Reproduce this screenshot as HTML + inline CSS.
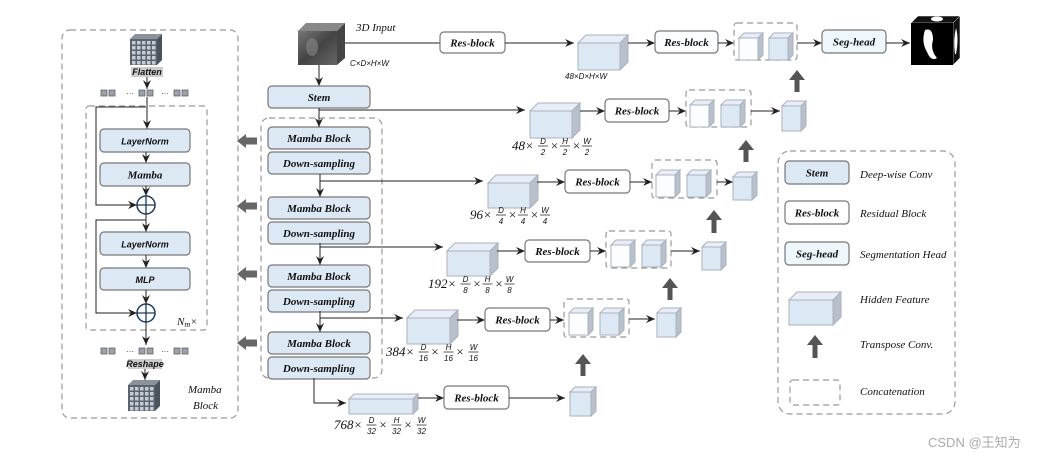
<!DOCTYPE html>
<html><head><meta charset="utf-8"><style>
html,body{margin:0;padding:0;background:#fff;width:1041px;height:459px;overflow:hidden}
svg{display:block}
.b{font-family:"Liberation Serif",serif;font-style:italic;font-weight:bold;font-size:11px;fill:#111}
.s{font-family:"Liberation Sans",sans-serif;font-style:italic;font-weight:bold;font-size:9px;fill:#111}
.l{font-family:"Liberation Serif",serif;font-style:italic;font-size:11px;fill:#111}
.d{font-family:"Liberation Serif",serif;font-style:italic;font-size:13px;fill:#111}
.f{font-family:"Liberation Sans",sans-serif;font-style:italic;font-size:8px;fill:#111}
</style></head><body>
<svg id="s" width="1041" height="459" viewBox="0 0 1041 459" xmlns="http://www.w3.org/2000/svg">
<defs>
<marker id="a" markerWidth="10" markerHeight="8" refX="9" refY="4" orient="auto" markerUnits="userSpaceOnUse"><path d="M0,0 L9,4 L0,8 L3,4 Z" fill="#222"/></marker>
<linearGradient id="g" x1="0" y1="0" x2="1" y2="1"><stop offset="0" stop-color="#777"/><stop offset="0.5" stop-color="#444"/><stop offset="1" stop-color="#666"/></linearGradient>
</defs>
<g id="root"></g>
<text x="928" y="447" font-family="Liberation Sans,Noto Sans CJK SC,sans-serif" font-size="13" fill="#aaa">CSDN @王知为</text>
</svg>
<script>
const R=document.getElementById('root');let h='';
function box(x,y,w,ht,t,fill,cls){h+=`<rect x="${x}" y="${y}" width="${w}" height="${ht}" rx="4" fill="${fill}" stroke="#777" stroke-width="1.2"/><text x="${x+w/2}" y="${y+ht/2+4}" text-anchor="middle" class="${cls||'b'}">${t}</text>`;}
function dash(x,y,w,ht,rx){h+=`<rect x="${x}" y="${y}" width="${w}" height="${ht}" rx="${rx||3}" fill="none" stroke="#999" stroke-width="1.2" stroke-dasharray="6,4"/>`;}
function ln(pts,arr,w){h+=`<polyline points="${pts}" fill="none" stroke="#222" stroke-width="${w||1}" ${arr?'marker-end="url(#a)"':''}/>`;}
function cube(x,y,w,ht,dep,front){front=front||'#dde8f5';h+=`<polygon points="${x},${y+dep} ${x+dep},${y} ${x+w+dep},${y} ${x+w},${y+dep}" fill="#e8eef7" stroke="#aab2bd"/><polygon points="${x+w},${y+dep} ${x+w+dep},${y} ${x+w+dep},${y+ht} ${x+w},${y+ht+dep}" fill="#b8c0cc" stroke="#aab2bd"/><rect x="${x}" y="${y+dep}" width="${w}" height="${ht}" fill="${front}" stroke="#aab2bd"/>`;}
function up(x,y1,y2){h+=`<rect x="${x-2.5}" y="${y1+8}" width="5" height="${y2-y1-8}" fill="#555"/><polygon points="${x-8},${y1+10} ${x},${y1} ${x+8},${y1+10}" fill="#555"/>`;}
function left(x,y){h+=`<polygon points="${x},${y} ${x+9},${y-7} ${x+9},${y+7}" fill="#666"/><rect x="${x+9}" y="${y-3.5}" width="11" height="7" fill="#666"/>`;}
function frac(x,y,n,parts){let t=`<text x="${x}" y="${y+4}" class="d">${n}×</text>`;let cx=x+n.length*6.5+18;parts.forEach((p,i)=>{t+=`<text x="${cx}" y="${y-2}" text-anchor="middle" class="f">${p[0]}</text><line x1="${cx-5}" y1="${y}" x2="${cx+5}" y2="${y}" stroke="#111" stroke-width="0.7"/><text x="${cx}" y="${y+9}" text-anchor="middle" class="f" font-style="normal">${p[1]}</text>`;if(i<2)t+=`<text x="${cx+7}" y="${y+4}" class="d">×</text>`;cx+=22+(p[1].length>1?3:0);});h+=t;}
function tokens(y){[101,109,0,139,147,0,174,182].forEach(x=>{if(x)h+=`<rect x="${x}" y="${y}" width="6" height="6" fill="#9aa2ad" stroke="#555" stroke-width="0.7"/>`;});h+=`<text x="126" y="${y+6}" font-size="8" fill="#333" font-family="Liberation Sans">···</text><text x="161" y="${y+6}" font-size="8" fill="#333" font-family="Liberation Sans">···</text>`;}
function grid(x,y){h+=`<polygon points="${x},${y+5} ${x+5},${y} ${x+32},${y} ${x+27},${y+5}" fill="#8a929c"/><polygon points="${x+27},${y+5} ${x+32},${y} ${x+32},${y+26} ${x+27},${y+31}" fill="#4a525c"/><rect x="${x}" y="${y+5}" width="27" height="26" fill="#5a636e"/>`;for(let i=0;i<5;i++)for(let j=0;j<5;j++)h+=`<rect x="${x+2+i*5}" y="${y+7+j*5}" width="3.5" height="3.5" fill="#c5ccd6"/>`;}
// left panel
dash(62,30,176,388,8);dash(86,106,121,224,3);
grid(130,34);h+=`<rect x="131" y="67" width="32" height="10" fill="#ccc"/><text x="147" y="75" text-anchor="middle" class="s" font-weight="normal">Flatten</text>`;
ln("147,77 147,89",1);tokens(90);
ln("147,97 147,123");ln("147,123 147,129",1);
ln("146,107 96,107 96,205 137,205",1);
box(100,129,90,23,'LayerNorm','#dde8f5','s');ln("146,152 146,163",1);
box(100,163,90,23,'Mamba','#dde8f5','b');ln("146,186 146,196",1);
h+=`<circle cx="146" cy="205" r="9" fill="#fff" stroke="#1e3a5f" stroke-width="1.5"/><path d="M137,205h18M146,196v18" stroke="#1e3a5f" stroke-width="1.3"/>`;
ln("146,214 146,232",1);ln("146,220 96,220 96,313 137,313",1);
box(100,232,90,23,'LayerNorm','#dde8f5','s');ln("146,255 146,268",1);
box(100,268,90,22,'MLP','#dde8f5','s');ln("146,290 146,304",1);
h+=`<circle cx="146" cy="313" r="9" fill="#fff" stroke="#1e3a5f" stroke-width="1.5"/><path d="M137,313h18M146,304v18" stroke="#1e3a5f" stroke-width="1.3"/>`;
h+=`<text x="177" y="325" class="l">N<tspan font-size="8" dy="2">m</tspan><tspan dy="-2">×</tspan></text>`;
ln("146,322 146,345",1);tokens(348);
h+=`<rect x="128" y="359" width="34" height="10" fill="#ccc"/><text x="145" y="367" text-anchor="middle" class="s" font-weight="normal">Reshape</text>`;
ln("145,369 145,380",1);grid(128,380);
h+=`<text x="188" y="393" class="l" font-size="12">Mamba</text><text x="193" y="409" class="l" font-size="12">Block</text>`;
[141,206,274,343].forEach(y=>left(237,y));
// input cube
h+=`<polygon points="298,31 306,23 345,23 337,31" fill="#888"/><polygon points="337,31 345,23 345,58 337,65" fill="#444"/><rect x="298" y="31" width="39" height="34" fill="url(#g)"/><ellipse cx="312" cy="47" rx="6" ry="9" fill="#888" opacity="0.6"/>`;
h+=`<text x="356" y="31" class="l" font-size="12">3D Input</text><text x="350" y="66" class="f" font-size="10">C×D×H×W</text>`;
ln("319,65 319,86",1);
box(268,86,102,22,'Stem','#dde8f5');
dash(261,118,121,260,8);
const rows=[127,197,265,332];
rows.forEach(y=>{box(268,y,102,22,'Mamba Block','#dde8f5');box(268,y+25,102,22,'Down-sampling','#dde8f5');});
ln("319,108 319,127",1);ln("319,110 525,110",1);
ln("320,174 320,197",1);ln("320,181 483,181",1);
ln("320,243 320,265",1);ln("320,247 443,247",1);
ln("320,311 320,332",1);ln("320,318 403,318",1);
ln("314,378 314,403 346,403",1);
// row0
ln("345,43 440,43");box(440,32,65,21,'Res-block','#fff');ln("505,43 574,43",1);
cube(578,35,42,27,8);h+=`<text x="565" y="79" class="f" font-size="10">48×D×H×W</text>`;
ln("628,43 655,43",1);box(655,31,63,22,'Res-block','#fbfdff');ln("718,43 734,43",1);
dash(734,23,63,37);cube(739,33,19,22,5,'#fbfdff');cube(769,33,19,22,5);
ln("797,43 822,43",1);box(822,30,64,23,'Seg-head','#eef7fb');ln("886,43 910,43",1);
h+=`<polygon points="911,23 918,16 960,16 953,23" fill="#111" stroke="#fff" stroke-width="0.5"/><polygon points="953,23 960,16 960,58 953,65" fill="#111" stroke="#fff" stroke-width="0.5"/><rect x="911" y="23" width="42" height="42" fill="#000"/><path d="M925,30 q8,-3 8,10 q-3,10 4,18 q-6,4 -10,-6 q-6,-10 -2,-22Z" fill="#fff"/><path d="M956,28 q3,10 0,26 l-1,0 q-2,-14 1,-26Z" fill="#fff"/><ellipse cx="937" cy="19" rx="6" ry="2.5" fill="#fff"/>`;
up(797,70,92);
// row1
cube(530,103,42,27,8);frac(512,146,'48',[['D','2'],['H','2'],['W','2']]);
ln("580,111 605,111",1);box(605,99,64,23,'Res-block','#fff');ln("669,111 686,111",1);
dash(686,90,65,37);cube(690,100,19,22,5,'#fbfdff');cube(721,100,19,22,5);
ln("751,111 780,111",1);cube(782,101,19,25,5);
up(746,140,162);
// row2
cube(488,175,42,25,8);frac(470,215,'96',[['D','4'],['H','4'],['W','4']]);
ln("537,182 565,182",1);box(565,170,65,23,'Res-block','#fff');ln("630,182 652,182",1);
dash(652,160,65,38);cube(656,170,19,22,5,'#fbfdff');cube(687,170,19,22,5);
ln("717,182 733,182",1);cube(733,172,19,23,5);
up(714,210,233);
// row3
cube(447,243,43,25,8);frac(428,284,'192',[['D','8'],['H','8'],['W','8']]);
ln("497,251 525,251",1);box(525,240,65,22,'Res-block','#fff');ln("590,251 606,251",1);
dash(606,231,65,37);cube(611,240,19,22,5,'#fbfdff');cube(642,240,19,22,5);
ln("671,251 700,251",1);cube(702,242,19,23,5);
up(670,278,300);
// row4
cube(407,310,43,26,8);frac(386,352,'384',[['D','16'],['H','16'],['W','16']]);
ln("457,320 485,320",1);box(485,308,65,23,'Res-block','#fff');ln("550,320 564,320",1);
dash(564,299,65,38);cube(569,308,19,22,5,'#fbfdff');cube(600,308,19,22,5);
ln("629,319 655,319",1);cube(657,308,19,24,5);
up(583,354,376);
// row5
cube(349,394,64,15,5);frac(334,425,'768',[['D','32'],['H','32'],['W','32']]);
ln("418,398 444,398",1);box(444,386,65,23,'Res-block','#fff');ln("509,398 565,398",1);
cube(570,387,21,24,5);
// legend
dash(778,151,177,263,12);
box(785,161,64,23,'Stem','#dde8f5');h+=`<text x="860" y="178" class="l">Deep-wise Conv</text>`;
box(785,201,64,23,'Res-block','#fff');h+=`<text x="860" y="217" class="l">Residual Block</text>`;
box(785,242,64,23,'Seg-head','#eef7fb');h+=`<text x="860" y="258" class="l">Segmentation Head</text>`;
cube(789,292,44,25,8);h+=`<text x="860" y="303" class="l">Hidden Feature</text>`;
up(815,335,358);h+=`<text x="860" y="348" class="l">Transpose Conv.</text>`;
dash(790,380,50,25);h+=`<text x="860" y="395" class="l">Concatenation</text>`;
R.innerHTML=h;
</script>
</body></html>
